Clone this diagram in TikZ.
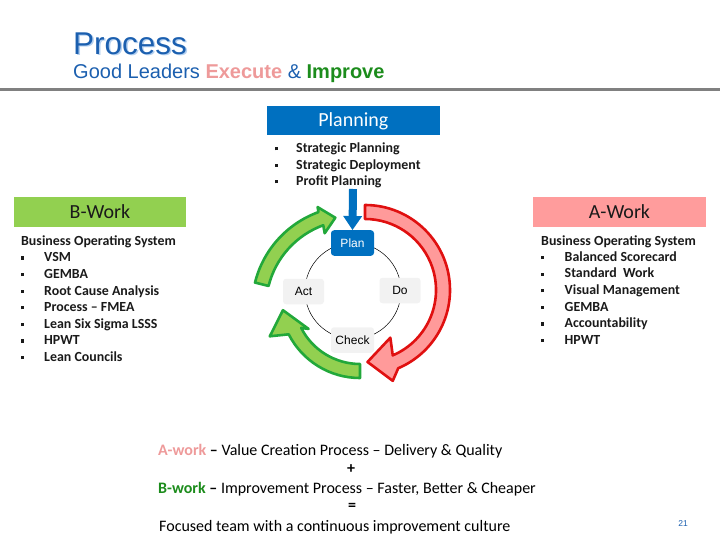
\documentclass[tikz,border=0pt]{standalone}
\usepackage{fontspec}
\setmainfont{Carlito}
\newfontfamily\arialf{Liberation Sans}
\usetikzlibrary{arrows.meta}
\definecolor{titleblue}{HTML}{1B5FAF}
\definecolor{shadowblue}{HTML}{B4D0F0}
\definecolor{execpink}{HTML}{EE9A9A}
\definecolor{imprgreen}{HTML}{1C8C1C}
\definecolor{planblue}{HTML}{0070C0}
\definecolor{bgreen}{HTML}{92D050}
\definecolor{apink}{HTML}{FF9C9C}
\definecolor{gline}{HTML}{22A83A}
\definecolor{gfill}{HTML}{92D050}
\definecolor{rline}{HTML}{E01010}
\definecolor{rfill}{HTML}{FF9A9A}
\definecolor{boxgray}{HTML}{F2F2F2}
\definecolor{rulegray}{HTML}{808080}
\definecolor{txtdark}{HTML}{1A1A1A}
\newcommand\sqbul[1]{\makebox[#1][l]{\raisebox{2.2pt}{\rule{3.2pt}{3.2pt}}}}
\begin{document}
\begin{tikzpicture}[x=1pt,y=-1pt,
  hdrbox/.style={inner sep=0pt, minimum height=29.5pt, font=\fontsize{20}{24}\selectfont, text height=13pt, text depth=0pt},
  listtxt/.style={anchor=base west, inner sep=0pt, text=txtdark, font=\bfseries\fontsize{13.9}{16}\selectfont},
  cyclebox/.style={rounded corners=3pt, minimum width=43pt, minimum height=25.5pt, inner sep=0pt, font=\arialf\fontsize{12}{14}\selectfont, text height=8.6pt, text depth=0pt},
  grayc/.style={cyclebox, fill=boxgray, text=black},
  garrow/.style={fill=gfill, draw=gline, line width=2.6pt, line join=round},
  rarrow/.style={fill=rfill, draw=rline, line width=2.6pt, line join=round},
  bottxt/.style={anchor=base west, inner sep=0pt, font=\fontsize{16}{19}\selectfont}
]
\useasboundingbox (0,0) rectangle (720,540);

% title
\node[anchor=base west, inner sep=0pt, text=shadowblue, font=\arialf\fontsize{31.5}{34}\selectfont] (titleshadow) at (74.3,55.8) {Process};
\node[anchor=base west, inner sep=0pt, text=titleblue, font=\arialf\fontsize{31.5}{34}\selectfont] (title) at (73,54.5) {Process};
\node[anchor=base west, inner sep=0pt, text=titleblue, font=\arialf\fontsize{20}{24}\selectfont] (subtitle) at (73,78.5)
  {Good Leaders \textcolor{execpink}{\bfseries Execute} \& \textcolor{imprgreen}{\bfseries Improve}};
\coordinate (ruleL) at (0,89.5);
\coordinate (ruleR) at (720,89.5);
\draw[rulegray, line width=3pt] (ruleL) -- (ruleR);

% planning
\node[hdrbox, fill=planblue, text=white, minimum width=173.5pt] (planning) at (353.3,120.5) {Planning};
\foreach [count=\i] \t in {Strategic Planning, Strategic Deployment, Profit Planning}
  \node[listtxt] (p\i) at (275,{152.5+(\i-1)*16.6}) {\sqbul{21pt}\t};

% B-work
\node[hdrbox, fill=bgreen, text=txtdark, minimum width=172pt] (bwork) at (100,212) {B-Work};
\node[listtxt] (bh) at (21,245) {Business Operating System};
\foreach [count=\i] \t in {VSM, GEMBA, Root Cause Analysis, Process – FMEA, Lean Six Sigma LSSS, HPWT, Lean Councils}
  \node[listtxt] (b\i) at (20.5,{261.8+(\i-1)*16.6}) {\sqbul{23.5pt}\t};

% A-work
\node[hdrbox, fill=apink, text=txtdark, minimum width=173pt] (awork) at (619.5,212) {A-Work};
\node[listtxt] (ah) at (541,245) {Business Operating System};
\foreach [count=\i] \t in {Balanced Scorecard, Standard\ \ Work, Visual Management, GEMBA, Accountability, HPWT}
  \node[listtxt] (a\i) at (541,{261.3+(\i-1)*16.6}) {\sqbul{23.5pt}\t};

% cycle ring
\node[circle, draw=black, line width=0.5pt, minimum size=96pt, inner sep=0pt] (ring) at (353,291) {};

% cycle boxes
\node[cyclebox, fill=planblue, text=white] (plan) at (352.5,243) {Plan};
\node[grayc, minimum width=41pt] (do) at (400,290.5) {Do};
\node[grayc] (check) at (352.5,340) {Check};
\node[grayc, minimum width=41pt] (act) at (303.5,291.5) {Act};

% blue arrow into Plan
\coordinate (bstart) at (353,189);
\draw[planblue, line width=8pt, -{Triangle[width=18pt,length=14pt]}] (bstart) -- (plan.north);

% upper green arrow (Act -> Plan)
\coordinate (cg1) at (353,307);
\draw[garrow] ([shift={(194:101)}]cg1) arc[start angle=194, end angle=250, radius=101]
  -- ([shift={(250.5:106)}]cg1) -- ([shift={(258.8:91)}]cg1) -- ([shift={(249:79)}]cg1)
  -- ([shift={(250:87)}]cg1) arc[start angle=250, end angle=194, radius=87] -- cycle;

% lower green arrow (Check -> Act)
\coordinate (cg2) at (360,298);
\draw[garrow] ([shift={(90:80)}]cg2) arc[start angle=90, end angle=153, radius=80]
  -- ([shift={(157:98)}]cg2) -- ([shift={(171:78)}]cg2) -- ([shift={(149:60)}]cg2)
  -- ([shift={(153:66)}]cg2) arc[start angle=153, end angle=90, radius=66] -- cycle;

% red arrow (Plan -> Do -> Check)
\coordinate (cr) at (365,290);
\draw[rarrow] ([shift={(-90:85)}]cr) arc[start angle=-90, end angle=67, radius=85]
  -- ([shift={(73:95)}]cr) -- ([shift={(88:72)}]cr) -- ([shift={(62:54)}]cr)
  -- ([shift={(67:71)}]cr) arc[start angle=67, end angle=-90, radius=71] -- cycle;

% bottom text
\node[bottxt] (l1) at (158,455) {\textcolor{execpink}{\bfseries A-work} {\bfseries –} Value Creation Process – Delivery \& Quality};
\node[inner sep=0pt, font=\bfseries\fontsize{16}{19}\selectfont] (plus) at (351,469) {+};
\node[bottxt] (l2) at (158,493) {\textcolor{imprgreen}{\bfseries B-work} {\bfseries –} Improvement Process – Faster, Better \& Cheaper};
\node[inner sep=0pt, font=\bfseries\fontsize{16}{19}\selectfont] (equals) at (352,507) {=};
\node[bottxt] (l3) at (159,531.5) {Focused team with a continuous improvement culture};

% page number
\node[inner sep=0pt, text=titleblue, font=\arialf\fontsize{8.5}{10}\selectfont] (pnum) at (683,523.5) {21};
\end{tikzpicture}
\end{document}
